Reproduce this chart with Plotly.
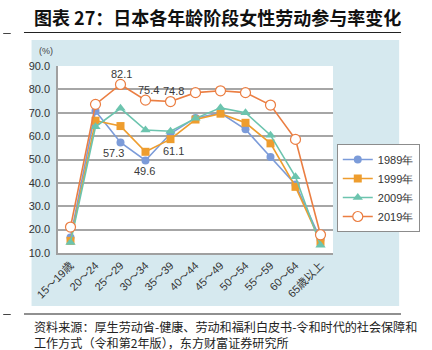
import plotly.graph_objects as go

# Female labour force participation rate (%) by age group, Japan
age_groups = ["15～19歳", "20～24", "25～29", "30～34", "35～39", "40～44",
              "45～49", "50～54", "55～59", "60～64", "65歳以上"]
rate_1989 = [16.6, 70.7, 57.3, 49.6, 61.1, 67.8, 69.9, 62.9, 51.1, 39.3, 15.8]
rate_1999 = [15.2, 66.6, 64.3, 53.3, 58.7, 67.1, 69.6, 65.7, 56.9, 38.3, 14.8]
rate_2009 = [14.5, 64.0, 71.9, 62.6, 62.1, 67.6, 72.1, 70.0, 60.4, 42.6, 13.3]
rate_2019 = [21.1, 73.6, 82.1, 75.4, 74.8, 78.6, 79.4, 78.6, 73.3, 58.6, 17.8]
years = ["1989年", "1999年", "2009年", "2019年"]

W, H = 432, 350
L, R, T, B = 58, 349, 66, 253  # plot area in pixels


def px(x):
    return (x - L) / (R - L)


def py(y):
    return (B - y) / (B - T)


num_font = "Liberation Sans Narrow, Arial Narrow, Liberation Sans, sans-serif"
cjk_font = "Noto Sans CJK SC, sans-serif"

fig = go.Figure()

styles = [
    (rate_1989, "#7B9BD9", dict(symbol="circle", size=8, color="#7B9BD9")),
    (rate_1999, "#EE9D2E", dict(symbol="square", size=8, color="#EE9D2E")),
    (rate_2009, "#6CC4AE", dict(symbol="triangle-up", size=9, color="#6CC4AE")),
    (rate_2019, "#EB7E42", dict(symbol="circle", size=10, color="white",
                                line=dict(color="#EB7E42", width=1.2))),
]
for name, (vals, col, mk) in zip(years, styles):
    fig.add_trace(go.Scatter(
        x=age_groups, y=vals, name=name, mode="lines+markers",
        line=dict(color=col, width=1.6), marker=mk,
    ))

# value labels
labels = [
    (2, rate_2019[2], 1, 10),
    (3, rate_2019[3], 3, 10),
    (4, rate_2019[4], 3, 11),
    (2, rate_1989[2], -7, -11),
    (3, rate_1989[3], -1, -11),
    (4, rate_1989[4], 3, -17),
]
for i, v, xs, ys in labels:
    fig.add_annotation(x=age_groups[i], y=v, text=f"{v:.1f}", showarrow=False,
                       xshift=xs, yshift=ys,
                       font=dict(family=num_font, size=11, color="#3A3A3A"))

shapes = [
    # light blue chart panel
    dict(type="rect", xref="paper", yref="paper", layer="below",
         x0=px(30), x1=px(419), y0=py(306), y1=py(40),
         fillcolor="#D6E9EF", line=dict(width=0)),
    # white plotting area
    dict(type="rect", xref="paper", yref="paper", layer="below",
         x0=0, x1=1, y0=0, y1=1, fillcolor="white", line=dict(width=0)),
    # rules under the title and above the source note
    dict(type="line", xref="paper", yref="paper", x0=px(22), x1=px(421),
         y0=py(32.5), y1=py(32.5), line=dict(color="#222222", width=1.2)),
    dict(type="line", xref="paper", yref="paper", x0=px(22), x1=px(421),
         y0=py(314), y1=py(314), line=dict(color="#222222", width=1.2)),
    dict(type="line", xref="paper", yref="paper", x0=px(0), x1=px(8),
         y0=py(33.5), y1=py(33.5), line=dict(color="#444444", width=1)),
    dict(type="line", xref="paper", yref="paper", x0=px(0), x1=px(8),
         y0=py(314.5), y1=py(314.5), line=dict(color="#444444", width=1)),
]

texts = [
    dict(text="<b>图表 27：日本各年龄阶段女性劳动参与率变化</b>", x=px(31), y=py(17),
         font=dict(family=cjk_font, size=18, color="#111111")),
    dict(text="(%)", x=px(36), y=py(51),
         font=dict(family=num_font, size=9, color="#444444")),
    dict(text="资料来源：厚生劳动省-健康、劳动和福利白皮书-令和时代的社会保障和", x=px(31), y=py(326),
         font=dict(family=cjk_font, size=12.1, color="#222222")),
    dict(text="工作方式（令和第2年版），东方财富证券研究所", x=px(31), y=py(342),
         font=dict(family=cjk_font, size=12.1, color="#222222")),
]
for t in texts:
    fig.add_annotation(xref="paper", yref="paper", xanchor="left", yanchor="middle",
                       showarrow=False, **t)

fig.update_layout(
    width=W, height=H,
    margin=dict(l=L, r=W - R, t=T, b=H - B),
    paper_bgcolor="white", plot_bgcolor="white",
    shapes=shapes,
    showlegend=True,
    legend=dict(x=px(353), y=py(144), xanchor="left", yanchor="top",
                bgcolor="white", bordercolor="#8C8C8C", borderwidth=1,
                font=dict(family=num_font, size=11, color="#333333"),
                itemwidth=30, tracegroupgap=0),
    xaxis=dict(type="category", range=[-0.5, 10.5], showgrid=False,
               showline=True, linecolor="#A0A0A0", linewidth=1.5,
               ticks="", tickangle=-45,
               tickfont=dict(family=num_font + ", Noto Sans CJK JP", size=11, color="#333333")),
    yaxis=dict(range=[10, 90], dtick=10, tickformat=".1f",
               showgrid=True, gridcolor="#A6A6A6", gridwidth=1.5,
               showline=True, linecolor="#A0A0A0", linewidth=1.5,
               zeroline=False, ticks="", ticklabelstandoff=4,
               tickfont=dict(family=num_font, size=11, color="#333333")),
)

fig.write_html("out.html")
